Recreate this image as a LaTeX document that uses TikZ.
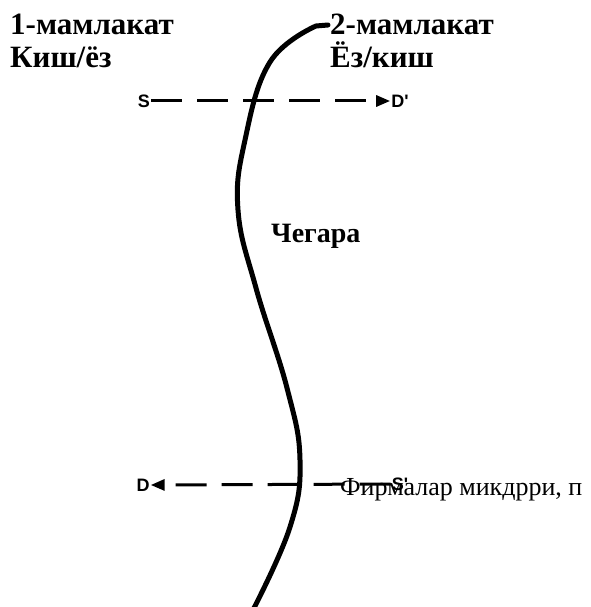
\documentclass[tikz,border=0pt]{standalone}
\usepackage{fontspec}
\setmainfont{Liberation Serif}
\newfontfamily\labfont{Liberation Sans}
\usetikzlibrary{arrows.meta}
\tikzset{
  head/.style={font=\bfseries\fontsize{31}{33}\selectfont, anchor=base west, inner sep=0pt},
  pt/.style={font=\labfont\bfseries\fontsize{18}{20}\selectfont, inner sep=1pt},
  flow/.style={line width=3pt, dash pattern=on 31pt off 15pt, -{Triangle[length=14pt,width=11pt]}},
  border/.style={line width=5pt, line cap=round, line join=round}
}
\begin{document}
\begin{tikzpicture}[x=1pt,y=-1pt]
\useasboundingbox (0,0) rectangle (590,607);
\node[head] (c1) at (10,35) {1-мамлакат};
\node[head] (c1b) at (10,68) {Киш/ёз};
\node[head] (c2) at (330,35) {2-мамлакат};
\node[head] (c2b) at (330,68) {Ёз/киш};
\node[font=\bfseries\fontsize{28}{30}\selectfont, anchor=base west, inner sep=0pt] (ch) at (271,242) {Чегара};
\node[font=\fontsize{26}{28}\selectfont, anchor=base west, inner sep=0pt] (fm) at (340,495) {Фирмалар микдрри, п};
\draw[border] (328,25) -- (316,26) plot[smooth, tension=0.7] coordinates {(316,26) (270,62) (245,140) (238,210) (256,288) (287,388) (300,460) (290,527) (253,610)};
\node[pt] (S1) at (144,101) {S};
\node[pt] (D1) at (400,101) {D'};
\node[pt] (D2) at (143,485) {D};
\node[pt] (S2) at (400,484) {S'};
\draw[flow] (S1.east) -- (D1.west);
\draw[flow] (S2.west) -- (D2.east);
\end{tikzpicture}
\end{document}
